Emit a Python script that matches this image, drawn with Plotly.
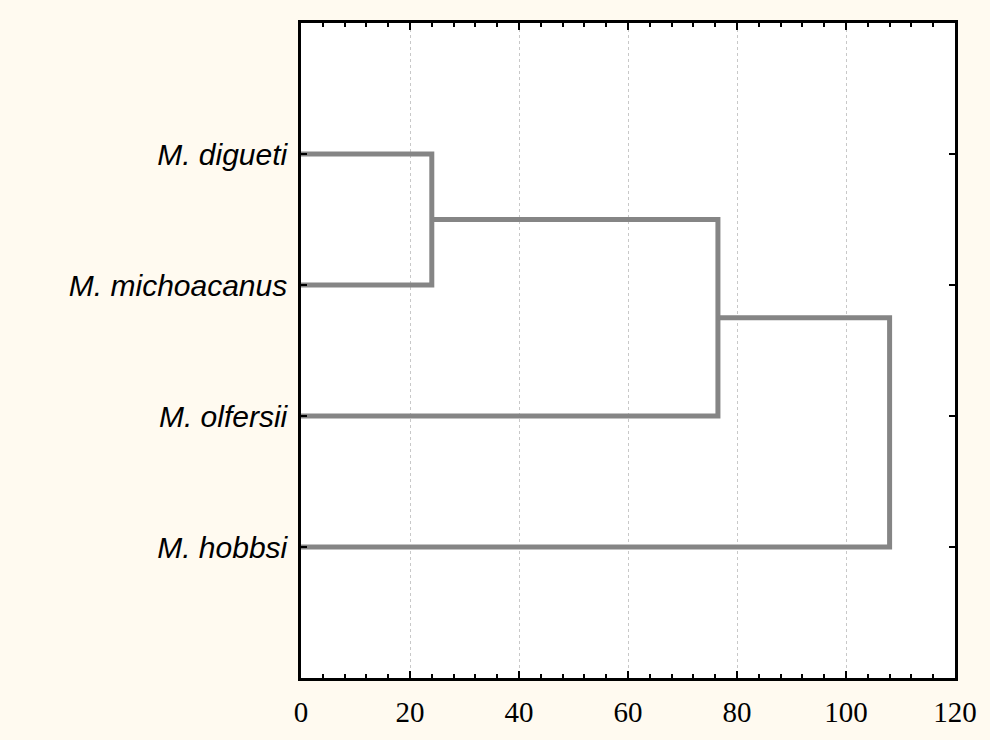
import plotly.graph_objects as go

# Data
species = ["M. digueti", "M. michoacanus", "M. olfersii", "M. hobbsi"]  # top to bottom
leaf_pos = [4, 3, 2, 1]
# merges: (left member, right member, linkage distance)
merges = [("M. digueti", "M. michoacanus", 24.0),
          ("n1", "M. olfersii", 76.5),
          ("n2", "M. hobbsi", 108.0)]
x_ticks = [0, 20, 40, 60, 80, 100, 120]

pos = {s: (0.0, p) for s, p in zip(species, leaf_pos)}
xs, ys = [], []
for i, (a, b, h) in enumerate(merges):
    xa, ya = pos[a]
    xb, yb = pos[b]
    xs += [xa, h, h, xb, None]
    ys += [ya, ya, yb, yb, None]
    pos[f"n{i+1}"] = (h, (ya + yb) / 2)

fig = go.Figure()
fig.add_trace(go.Scatter(x=xs, y=ys, mode="lines",
                         line=dict(color="#858585", width=5),
                         hoverinfo="skip", showlegend=False))

fig.update_layout(
    width=990, height=740,
    margin=dict(l=301, r=35, t=23, b=60),
    paper_bgcolor="#FFFAF0",
    plot_bgcolor="white",
    showlegend=False,
)
fig.update_xaxes(
    range=[0, 120], tickvals=x_ticks, ticktext=[str(v) for v in x_ticks],
    showline=True, linecolor="black", linewidth=2.5, mirror="ticks",
    ticks="inside", ticklen=7, tickwidth=2, tickcolor="black",
    minor=dict(dtick=4, tick0=0, ticks="inside", ticklen=4, tickwidth=2, tickcolor="black", showgrid=False),
    showgrid=True, gridcolor="#c8c8c8", griddash="dot", gridwidth=1,
    zeroline=False,
    tickfont=dict(family="Liberation Serif, Times New Roman, serif", size=29, color="black"),
    ticklabelstandoff=6,
)
fig.update_yaxes(
    range=[0, 5], tickvals=leaf_pos, ticktext=species,
    showline=True, linecolor="black", linewidth=2.5, mirror="ticks",
    ticks="inside", ticklen=6, tickwidth=2, tickcolor="black",
    showgrid=False, zeroline=False,
    tickfont=dict(family="Liberation Sans, Arial, sans-serif", size=30, color="black", style="italic"),
    ticklabelstandoff=5,
)
fig.write_html(
    "out.html",
    config={"displayModeBar": False},
    post_script="document.body.style.margin='0';document.body.style.background='#FFFAF0';document.body.style.overflow='hidden';",
)
